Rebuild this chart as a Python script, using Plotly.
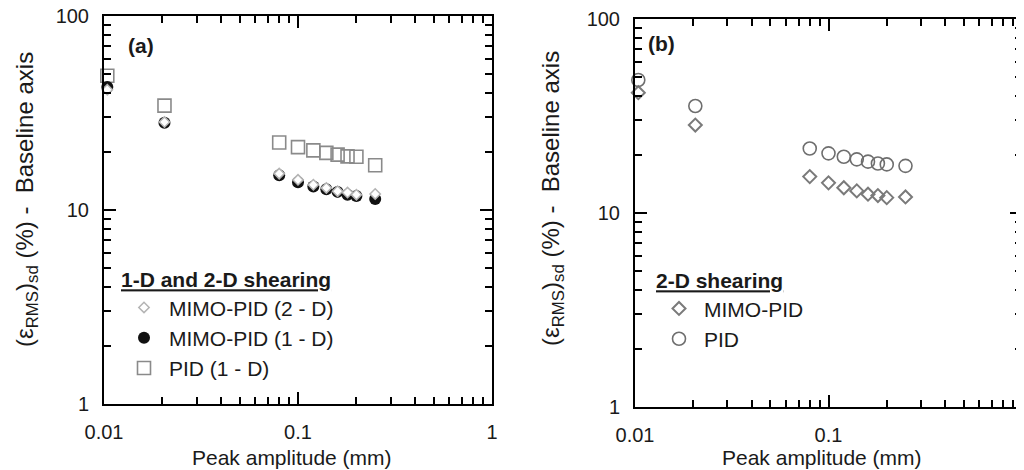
import plotly.graph_objects as go

# ---- data ----
amplitude = [0.0104, 0.0205, 0.08, 0.10, 0.12, 0.14, 0.16, 0.18, 0.20, 0.25]
mimo_pid_2d = [41.7, 28.4, 15.4, 14.3, 13.5, 13.0, 12.5, 12.3, 12.0, 12.1]
mimo_pid_1d = [43.0, 28.2, 15.1, 13.9, 13.2, 12.8, 12.4, 12.0, 11.8, 11.4]
pid_1d = [49.2, 34.5, 22.3, 21.1, 20.3, 19.7, 19.3, 18.9, 18.8, 17.0]
pid_2d = [48.5, 35.6, 21.5, 20.3, 19.5, 18.9, 18.4, 18.0, 17.8, 17.5]

x_major = [0.01, 0.1, 1]
x_major_text = ["0.01", "0.1", "1"]
y_major = [1, 10, 100]
y_major_text = ["1", "10", "100"]
x_minor = [m * d for d in (0.01, 0.1) for m in range(2, 10)]
y_minor = [m * d for d in (1, 10) for m in range(2, 10)]

FONT = "Liberation Sans, Arial, sans-serif"
TXT = "#1a1a1a"

# page body has an 8 px margin; figure sized so it ends at the window edge
OFF = 8
W, H = 1024 - OFF, 470 - OFF


def px(x):
    return (x - OFF) / W


def py(y):
    return (H - (y - OFF)) / H


fig = go.Figure()

# ---- panel (a) ----
fig.add_trace(go.Scatter(
    x=amplitude, y=pid_1d, mode="markers", name="PID (1 - D)",
    marker=dict(symbol="square-open", size=13, color="#8a8a8a", line=dict(width=1.6)),
    xaxis="x", yaxis="y", legend="legend", legendrank=3, cliponaxis=False))
fig.add_trace(go.Scatter(
    x=amplitude, y=mimo_pid_1d, mode="markers", name="MIMO-PID (1 - D)",
    marker=dict(symbol="circle", size=12, color="#111111", line=dict(width=0)),
    xaxis="x", yaxis="y", legend="legend", legendrank=2, cliponaxis=False))
fig.add_trace(go.Scatter(
    x=amplitude, y=mimo_pid_2d, mode="markers", name="MIMO-PID (2 - D)",
    marker=dict(symbol="diamond", size=8, color="white",
                line=dict(width=1.5, color="#b4b4b4")),
    xaxis="x", yaxis="y", legend="legend", legendrank=1, cliponaxis=False))

# ---- panel (b) ----
fig.add_trace(go.Scatter(
    x=amplitude, y=mimo_pid_2d, mode="markers", name="MIMO-PID",
    marker=dict(symbol="diamond-open", size=10, color="#7a7a7a", line=dict(width=2)),
    xaxis="x2", yaxis="y2", legend="legend2", legendrank=1, cliponaxis=False))
fig.add_trace(go.Scatter(
    x=amplitude, y=pid_2d, mode="markers", name="PID",
    marker=dict(symbol="circle-open", size=13, color="#6e6e6e", line=dict(width=1.6)),
    xaxis="x2", yaxis="y2", legend="legend2", legendrank=2, cliponaxis=False))

# empty helper traces so the overlay axes (long decade ticks) get a subplot
for xa, ya in (("x3", "y3"), ("x4", "y4")):
    fig.add_trace(go.Scatter(x=[None], y=[None], mode="markers", showlegend=False,
                             hoverinfo="skip", xaxis=xa, yaxis=ya))


def base_axis(major_vals, major_text, minor_vals, rng, domain, anchor):
    vals = sorted(major_vals + minor_vals)
    text = [major_text[major_vals.index(v)] if v in major_vals else "" for v in vals]
    return dict(
        type="log", range=rng, domain=domain, anchor=anchor,
        tickmode="array", tickvals=vals, ticktext=text,
        ticks="inside", ticklen=7, tickwidth=1.5, tickcolor="black",
        showline=True, linecolor="black", linewidth=2, mirror="allticks",
        showgrid=False, zeroline=False, automargin=False,
        tickfont=dict(family=FONT, size=20, color=TXT), ticklabelstandoff=9,
        ticklabeloverflow="allow",
    )


def decade_axis(major_vals, rng, overlaying, anchor):
    return dict(
        type="log", range=rng, overlaying=overlaying, anchor=anchor,
        tickmode="array", tickvals=major_vals, showticklabels=False,
        ticks="inside", ticklen=12, tickwidth=1.5, tickcolor="black",
        showline=True, linecolor="black", linewidth=2, mirror="allticks",
        showgrid=False, zeroline=False, automargin=False,
    )


dom_x1 = [px(104), px(492)]
dom_y1 = [py(404), py(16)]
dom_x2 = [px(635), px(1022)]
dom_y2 = [py(407), py(19)]

fig.update_layout(
    width=W, height=H, margin=dict(l=0, r=0, t=0, b=0),
    paper_bgcolor="white", plot_bgcolor="white",
    font=dict(family=FONT, size=20, color=TXT),
    xaxis=base_axis(x_major, x_major_text, x_minor, [-2, 0], dom_x1, "y"),
    yaxis=base_axis(y_major, y_major_text, y_minor, [0, 2], dom_y1, "x"),
    xaxis2=base_axis(x_major, x_major_text, x_minor, [-2, 0], dom_x2, "y2"),
    yaxis2=base_axis(y_major, y_major_text, y_minor, [0, 2], dom_y2, "x2"),
    xaxis3=decade_axis(x_major, [-2, 0], "x", "y3"),
    yaxis3=decade_axis(y_major, [0, 2], "y", "x3"),
    xaxis4=decade_axis(x_major, [-2, 0], "x2", "y4"),
    yaxis4=decade_axis(y_major, [0, 2], "y2", "x4"),
    legend=dict(
        x=px(119), y=py(260), xanchor="left", yanchor="top",
        bgcolor="rgba(0,0,0,0)", borderwidth=0, itemwidth=40,
        title=dict(text="<b><u>1-D and 2-D shearing</u></b>",
                   font=dict(family=FONT, size=21, color=TXT)),
        font=dict(family=FONT, size=21, color=TXT), tracegroupgap=0,
    ),
    legend2=dict(
        x=px(654), y=py(261), xanchor="left", yanchor="top",
        bgcolor="rgba(0,0,0,0)", borderwidth=0, itemwidth=40,
        title=dict(text="<b><u>2-D shearing</u></b>",
                   font=dict(family=FONT, size=21, color=TXT)),
        font=dict(family=FONT, size=21, color=TXT), tracegroupgap=0,
    ),
    showlegend=True,
)

ytitle = "(ε<sub>RMS</sub>)<sub>sd</sub> (%) -  Baseline axis"
annos = [
    dict(text="<b>(a)</b>", x=px(141), y=py(45), size=21),
    dict(text="<b>(b)</b>", x=px(661), y=py(43), size=21),
    dict(text="Peak amplitude (mm)", x=px(292), y=py(457), size=21),
    dict(text="Peak amplitude (mm)", x=px(822), y=py(457), size=21),
    dict(text=ytitle, x=px(26), y=py(200), textangle=-90, size=24),
    dict(text=ytitle, x=px(552), y=py(199), textangle=-90, size=24),
]
for a in annos:
    size = a.pop("size")
    fig.add_annotation(xref="paper", yref="paper", showarrow=False,
                       xanchor="center", yanchor="middle",
                       font=dict(family=FONT, size=size, color=TXT), **a)

fig.write_html("out.html")
